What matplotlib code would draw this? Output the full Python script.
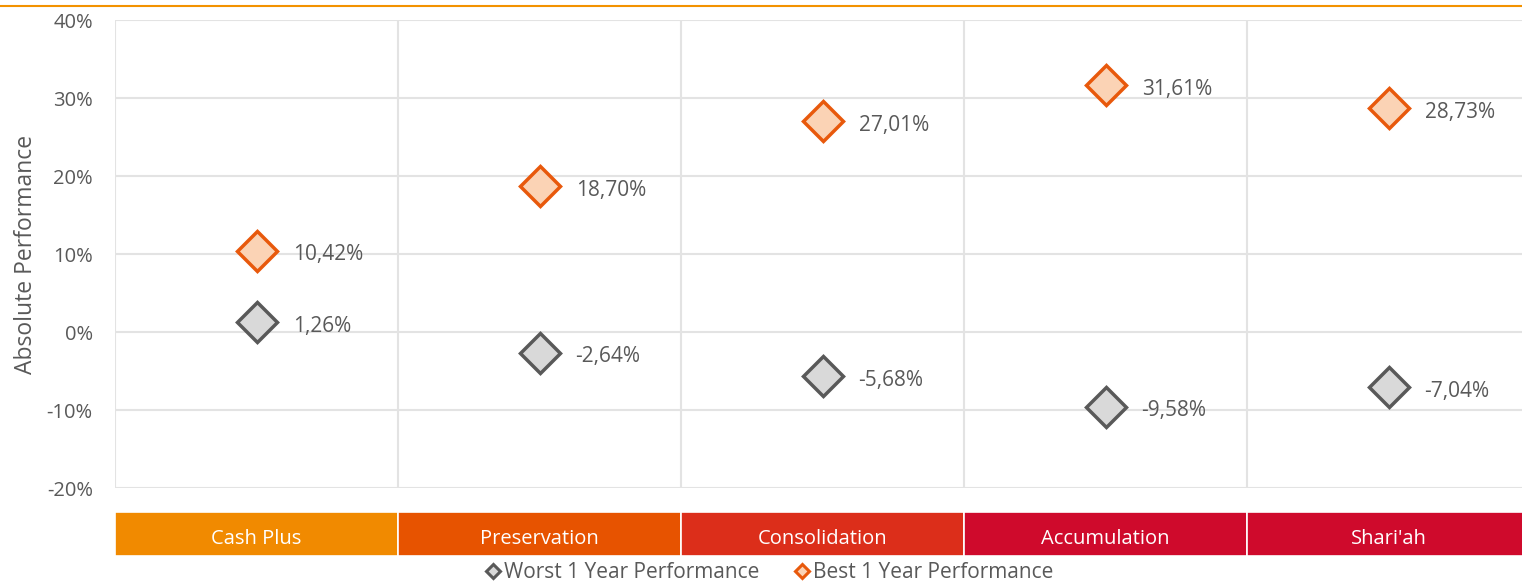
import matplotlib.pyplot as plt
from matplotlib.lines import Line2D

categories = ["Cash Plus", "Preservation", "Consolidation", "Accumulation", "Shari'ah"]
worst = [1.26, -2.64, -5.68, -9.58, -7.04]
best = [10.42, 18.70, 27.01, 31.61, 28.73]
band_colors = ["#F18A00", "#E75300", "#DC2E1A", "#CF0A2C", "#CF0A2C"]

plt.rcParams['font.family'] = ['Open Sans', 'DejaVu Sans']

W, H = 1522, 583
fig = plt.figure(figsize=(W / 100, H / 100), dpi=100)

# main plot area in pixels
left, right, top, bottom = 115, 1522, 20, 488
ax = fig.add_axes([left / W, 1 - bottom / H, (right - left) / W, (bottom - top) / H])

x = list(range(len(categories)))
ax.plot(x, best, linestyle="none", marker="D", markersize=20.5,
        markerfacecolor="#FBD3B5", markeredgecolor="#E8590C", markeredgewidth=2.5, zorder=3)
ax.plot(x, worst, linestyle="none", marker="D", markersize=20.5,
        markerfacecolor="#D9D9D9", markeredgecolor="#595959", markeredgewidth=2.5, zorder=3)

for i in x:
    ax.annotate(f"{best[i]:.2f}%".replace(".", ","), (i, best[i]), xytext=(26, -3),
                textcoords="offset points", va="center", fontsize=15, color="#595959")
    ax.annotate(f"{worst[i]:.2f}%".replace(".", ","), (i, worst[i]), xytext=(26, -3),
                textcoords="offset points", va="center", fontsize=15, color="#595959")

span = (right - left) / 283.0
ax.set_yticks(range(-20, 41, 10))
ax.set_yticklabels([f"{v}%" for v in range(-20, 41, 10)], fontsize=14.5, color="#595959")
ax.set_xticks([i + 0.5 for i in range(-1, 4)])
ax.set_xticklabels([])
ax.set_xlim(-0.5, -0.5 + span)
ax.set_ylim(-20, 40)
ax.tick_params(length=0, pad=16)
ax.grid(True, color="#E3E3E3", linewidth=1.5)
for s in ax.spines.values():
    s.set_visible(False)
ax.set_ylabel("Absolute Performance", fontsize=16.5, color="#595959", labelpad=6)

# category band
band = fig.add_axes([left / W, 1 - 556 / H, (right - left) / W, 44 / H])
for i, c in enumerate(categories):
    band.bar(i, 1, width=1, color=band_colors[i], edgecolor="white", linewidth=1.2)
    band.text(i, 0.38, c, ha="center", va="center", color="white", fontsize=14.5)
band.set_xlim(-0.5, -0.5 + span)
band.set_ylim(0, 1)
band.axis("off")

# top orange rule
fig.add_artist(Line2D([0, 1], [1 - 6 / H, 1 - 6 / H], color="#F39200", linewidth=1.5))

handles = [
    Line2D([], [], linestyle="none", marker="D", markersize=7.5, markerfacecolor="#D9D9D9",
           markeredgecolor="#595959", markeredgewidth=2.2),
    Line2D([], [], linestyle="none", marker="D", markersize=7.5, markerfacecolor="#FBD3B5",
           markeredgecolor="#E8590C", markeredgewidth=2.2),
]
fig.legend(handles, ["Worst 1 Year Performance", "Best 1 Year Performance"], loc="center",
           bbox_to_anchor=(768 / W, 1 - 573 / H), ncol=2, frameon=False, fontsize=15,
           handletextpad=0.05, columnspacing=1.5, labelcolor="#595959", handlelength=1,
           borderpad=0)

fig.savefig("out.png", dpi=100)
